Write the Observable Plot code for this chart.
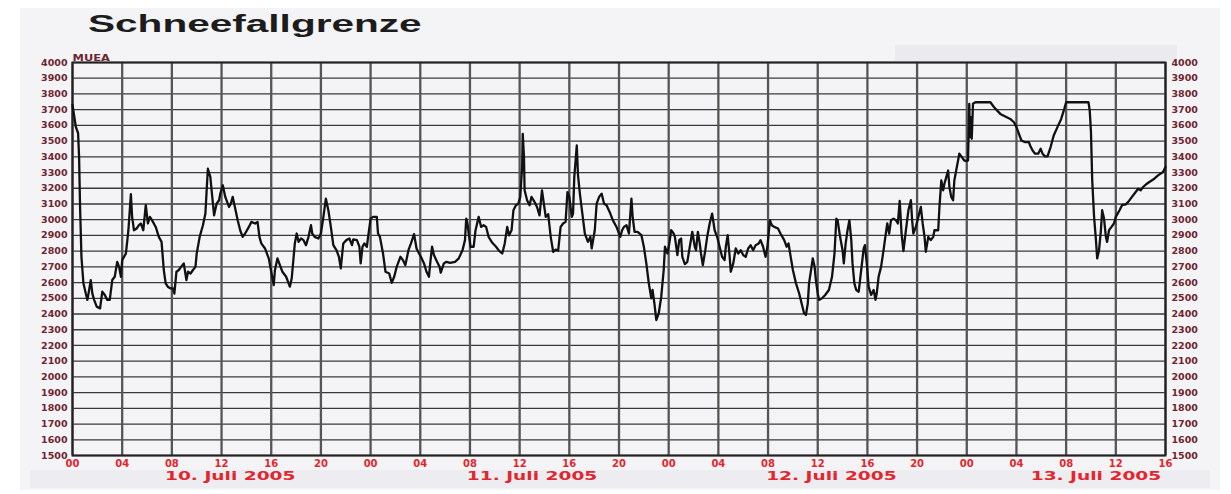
<!DOCTYPE html>
<html>
<head>
<meta charset="utf-8">
<script src="https://cdn.jsdelivr.net/npm/d3@7"></script>
<script src="https://cdn.jsdelivr.net/npm/@observablehq/plot@0.6"></script>
<style>
  html, body { margin: 0; padding: 0; background: #ffffff; }
  #wrap { position: relative; width: 1231px; height: 494px; overflow: hidden; background: #ffffff; }
  .bg { position: absolute; }
  #title { position: absolute; left: 88px; top: 11px; font-family: "Liberation Sans", Arial, sans-serif; font-weight: bold; font-size: 24px; line-height: 25px; color: #1c1c1c; transform: scaleX(1.69); transform-origin: left top; white-space: nowrap; }
  #chart { position: absolute; left: 0; top: 40px; }
</style>
</head>
<body>
<div id="wrap">
  <div class="bg" style="left:20px;top:8px;width:1200px;height:482px;background:#f4f4f7;"></div>
  <div class="bg" style="left:895px;top:45px;width:282px;height:16px;background:#ebebef;"></div>
  <div class="bg" style="left:30px;top:470px;width:1180px;height:18px;background:#ececf1;"></div>
  <div id="title">Schneefallgrenze</div>
  <div id="chart"></div>
</div>
<script>
// Hours since 10. Juli 2005 00:00
const hours = [
0,0.27,0.45,0.53,0.61,0.72,0.88,1.07,1.2,1.34,1.47,1.6,1.74,1.95,2.22,2.4,2.6,2.8,3.0,3.2,3.4,3.6,3.75,3.9,4.0,4.3,4.5,4.7,4.8,4.95,
5.16,5.35,5.5,5.7,5.9,6.07,6.23,6.4,6.7,6.95,7.17,7.35,7.5,7.67,7.9,8.1,8.2,8.37,8.56,8.74,8.96,9.17,9.3,9.5,9.7,9.9,10.0,10.24,10.5,10.7,
10.83,10.9,11.1,11.2,11.4,11.6,11.8,11.9,12.1,12.3,12.6,12.75,12.9,13.1,13.3,13.5,13.7,13.9,14.2,14.4,14.7,14.9,15.05,15.2,15.5,15.8,16.0,16.2,16.3,16.5,
16.7,16.9,17.2,17.5,17.65,17.9,18.05,18.2,18.4,18.6,18.8,19.0,19.2,19.3,19.5,19.8,20.0,20.2,20.4,20.6,20.8,21.0,21.25,
21.45,21.6,21.8,22.05,22.3,22.5,22.6,22.9,23.1,23.2,23.35,23.5,23.7,23.8,24.0,24.2,24.5,24.6,24.75,25.0,25.2,25.5,25.7,25.9,26.1,26.4,26.6,26.8,27.05,27.25,
27.5,27.7,27.9,28.05,28.3,28.5,28.7,28.8,28.95,29.1,29.35,29.55,29.65,29.9,30.1,30.4,30.8,31.1,31.4,31.6,31.7,31.8,31.9,32.05,32.3,32.45,32.7,32.9,33.1,33.3,
33.5,33.8,34.1,34.35,34.6,34.8,35.0,35.15,35.35,35.5,35.7,35.9,36.05,36.2,36.25,36.35,36.4,36.6,36.8,36.95,37.2,37.4,37.6,37.8,37.95,38.1,38.3,38.5,38.7,38.9,
39.1,39.3,39.5,39.7,39.85,40.0,40.2,40.3,40.4,40.6,40.7,40.85,41.05,41.25,41.5,41.7,41.8,42.05,42.2,42.4,42.6,42.8,43.0,43.3,43.5,43.8,44.1,
44.25,44.4,44.6,44.8,45.0,45.1,45.25,45.5,45.8,46.0,46.2,46.4,46.6,46.7,46.85,47.0,47.2,47.4,47.6,47.7,47.9,48.05,48.2,48.4,48.5,48.7,48.85,49.0,49.1,49.3,
49.5,49.7,49.9,50.1,50.2,50.35,50.5,50.6,50.75,50.95,51.1,51.3,51.5,51.7,51.9,52.1,52.3,52.5,52.6,52.75,52.9,53.0,53.2,53.4,53.6,53.8,54.0,54.2,54.4,54.6,
54.8,55.0,55.25,55.4,55.6,55.8,55.95,56.15,56.3,56.5,56.8,57.0,57.3,57.5,57.65,57.8,58.0,58.25,58.5,58.7,58.9,59.05,59.2,59.3,59.5,59.6,59.75,59.85,60.0,60.1,
60.35,60.6,60.9,61.15,61.35,61.5,61.6,61.8,62.0,62.1,62.25,62.4,62.55,62.7,62.8,62.95,63.1,63.3,63.5,63.7,63.8,63.95,64.1,64.3,64.5,64.65,64.75,64.9,65.1,65.3,
65.5,65.6,65.75,65.9,66.1,66.3,66.45,
66.6,66.75,66.9,67.1,67.3,67.5,67.6,67.7,67.9,68.1,68.3,68.45,68.6,68.7,68.9,69.1,69.3,69.4,69.7,69.8,69.95,70.1,70.2,70.35,70.5,70.6,70.75,70.9,71.0,71.2,
71.4,71.6,71.8,71.95,72.1,72.2,72.25,72.33,72.4,72.5,72.7,73.1,73.9,74.2,74.45,74.7,75.1,75.5,75.8,76.0,76.2,76.4,76.7,77.0,77.1,77.3,77.5,77.75,77.95,78.1,
78.3,78.5,78.75,79.0,79.3,79.6,79.85,80.0,80.5,81.2,81.8,81.9,82.0,82.1,82.25,82.4,82.5,82.65,82.8,82.9,83.05,83.2,83.3,83.45,83.65,83.85,84.0,84.3,84.5,84.8,
85.0,85.3,85.6,85.8,86.0,86.2,86.5,86.7,87.1,87.4,87.8,88.0
];
// Schneefallgrenze in m ü. A.
const schneefallgrenze = [
3730,3590,3550,3400,3080,2764,2595,2530,2490,2553,2616,2530,2490,2447,2436,2542,2521,2490,2490,2616,2637,2732,2700,2637,2743,2785,2933,3162,3018,2933,
2944,2965,2976,2933,3092,2976,3018,2997,2954,2891,2859,2680,2595,2574,2563,2563,2530,2669,2680,2700,2722,2616,2669,2658,2680,2700,2785,2891,2965,3039,
3229,3324,3271,3187,3028,3102,3124,3166,3219,3145,3081,3102,3145,3071,2997,2933,2891,2912,2954,2986,2976,2986,2891,2849,2817,2754,2669,2584,2680,2754,
2711,2669,2637,2574,2627,2849,2912,2859,2880,2870,2838,2891,2965,2912,2891,2880,2912,3018,3134,3060,2954,2838,2806,
2764,2690,2849,2870,2880,2838,2874,2870,2828,2722,2828,2849,2828,2891,3007,3018,3018,2912,2891,2785,2669,2658,2599,2637,2700,2764,2743,2711,2806,2849,
2908,2817,2785,2764,2722,2669,2637,2722,2828,2775,2732,2700,2663,2722,2732,2726,2732,2754,2806,2870,3007,2976,2912,2828,2828,2933,3018,2954,2965,2954,
2891,2853,2828,2802,2785,2849,2954,2901,2933,3060,3092,3102,3145,3335,3546,3398,3187,3124,3092,3145,3113,3081,3028,3187,3102,3018,3035,2891,2796,2810,
2802,2954,2976,2986,3176,3145,3018,3039,3271,3472,3282,3166,3039,2912,2859,2891,2817,2933,3102,3145,3166,3102,3092,3039,2997,2954,2891,
2933,2954,2965,2912,3134,3018,2923,2923,2902,2828,2722,2595,2500,2553,2468,2362,2405,2510,2680,2828,2785,2849,2933,2912,2891,2775,2870,2880,2764,2718,
2732,2828,2923,2828,2806,2923,2849,2785,2711,2806,2891,2976,3039,2933,2891,2828,2764,2743,2828,2902,2775,2669,2722,2817,2785,2806,2775,2764,2817,2838,
2806,2838,2849,2870,2828,2764,2828,2997,2965,2954,2944,2912,2870,2828,2849,2775,2680,2595,2532,2468,2405,2394,2468,2595,2700,2754,2700,2616,2532,2490,
2500,2521,2553,2637,2785,3007,2997,2891,2806,2722,2849,2933,2997,2870,2722,2595,2553,2542,2680,2817,2838,2722,2574,2521,2553,2490,2530,2637,2700,2806,
2923,2976,2912,2997,3007,2997,2976,
3120,2912,2800,2933,3060,3124,2997,2912,2954,3018,3081,2976,2891,2796,2891,2870,2891,2933,2933,3081,3250,3187,3229,3271,3313,3208,3145,3124,3250,3335,
3420,3398,3377,3373,3377,3737,3525,3652,3515,3737,3747,3747,3747,3715,3694,3673,3656,3641,3620,3589,3546,3504,3493,3493,3472,3440,3420,3420,3451,3420,
3403,3403,3462,3536,3589,3641,3705,3747,3747,3747,3747,3694,3557,3250,3018,2870,2754,2806,2933,3060,3007,2891,2859,2933,2954,2976,3018,3060,3092,3098,
3113,3145,3176,3197,3187,3208,3229,3240,3261,3282,3303,3335
];
const yTicks = d3.range(1500, 4001, 100);
const dateLabels = ["10. Juli 2005", "11. Juli 2005", "12. Juli 2005", "13. Juli 2005"];
const dateLabelHours = [12.7, 37, 61.1, 82.4];
const unitLabel = ["MUEA"];

const start = Date.UTC(2005, 6, 10, 0);
const end = Date.UTC(2005, 6, 13, 16);
const toDate = h => new Date(start + h * 3600e3);
const data = hours.map((h, i) => ({date: toDate(h), value: schneefallgrenze[i]}));
const xTicks = d3.utcHour.every(4).range(new Date(start), new Date(end + 1));

const svg = Plot.plot({
  width: 1231,
  height: 454,
  marginTop: 22,
  marginBottom: 39,
  marginLeft: 72,
  marginRight: 66,
  style: {background: "transparent", fontFamily: "'DejaVu Sans', sans-serif", overflow: "visible"},
  x: {type: "utc", domain: [new Date(start), new Date(end)]},
  y: {domain: [1500, 4000]},
  marks: [
    Plot.gridY(yTicks, {stroke: "#3a3a3a", strokeOpacity: 1, strokeWidth: 1.3}),
    Plot.gridX(xTicks, {stroke: "#555555", strokeOpacity: 1, strokeWidth: 2.3}),
    Plot.frame({stroke: "#222222", strokeWidth: 2}),
    Plot.lineY(data, {x: "date", y: "value", stroke: "#111111", strokeWidth: 2.3}),
    Plot.axisY(yTicks, {anchor: "left", tickSize: 0, tickPadding: 5, fill: "#6e2530", fontSize: 9.5, fontWeight: "bold", label: null, tickFormat: d => String(d)}),
    Plot.axisY(yTicks, {anchor: "right", tickSize: 0, tickPadding: 6, fill: "#6e2530", fontSize: 9.5, fontWeight: "bold", label: null, tickFormat: d => String(d)}),
    Plot.axisX(xTicks, {anchor: "bottom", tickSize: 0, tickPadding: 4, fill: "#e3262d", fontSize: 10, fontWeight: "bold", label: null, tickFormat: d3.utcFormat("%H")}),
    Plot.text(dateLabels, {x: dateLabelHours.map(toDate), frameAnchor: "bottom", dy: 24, fill: "#e3262d", fontSize: 12, fontWeight: "bold"}),
    Plot.text(unitLabel, {frameAnchor: "top-left", textAnchor: "start", lineAnchor: "bottom", dy: -2, fill: "#6e2530", fontSize: 8.5, fontWeight: "bold"})
  ]
});
document.getElementById("chart").appendChild(svg);

function stretch(el, s) {
  const t = el.getAttribute("transform");
  if (t) el.setAttribute("transform", t + ` scale(${s},1)`);
  else {
    const x = +el.getAttribute("x") || 0, y = +el.getAttribute("y") || 0;
    el.removeAttribute("x"); el.removeAttribute("y");
    el.setAttribute("transform", `translate(${x},${y}) scale(${s},1)`);
  }
}
d3.select(svg).selectAll("text").each(function() {
  const s = this.textContent;
  if (/Juli/.test(s)) stretch(this, 1.55);
  else if (s === "MUEA") stretch(this, 1.35);
});
</script>
</body>
</html>
